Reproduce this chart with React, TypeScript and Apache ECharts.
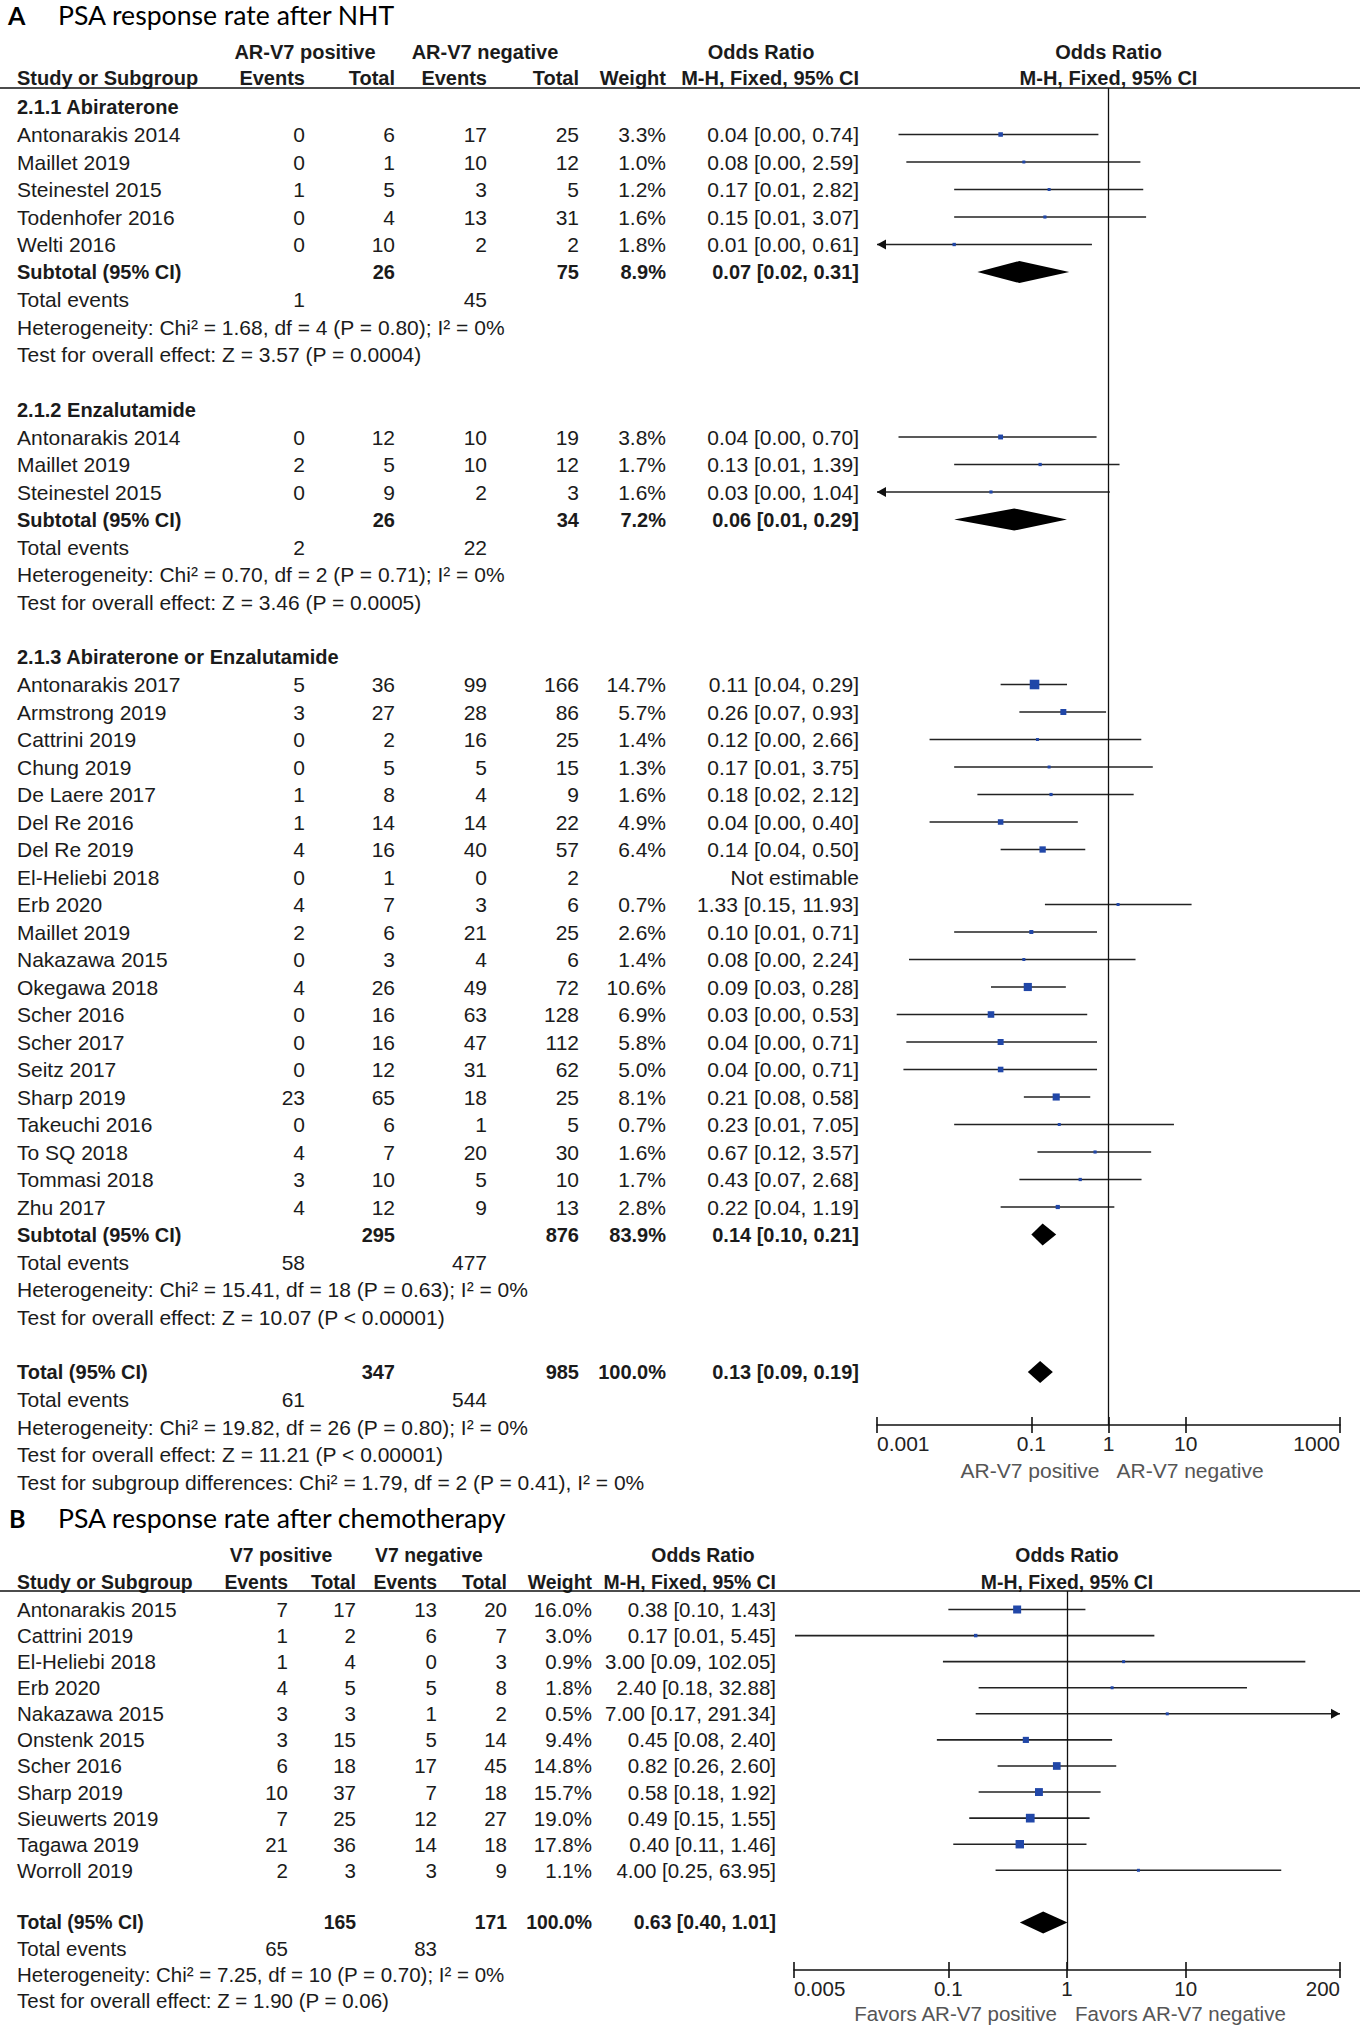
import React, { useEffect, useRef } from "react";
import * as echarts from "echarts";

// ================= Panel A: PSA response rate after NHT =================
const subgroupTitlesA = ["2.1.1 Abiraterone", "2.1.2 Enzalutamide", "2.1.3 Abiraterone or Enzalutamide"];

const namesA1 = ["Antonarakis 2014", "Maillet 2019", "Steinestel 2015", "Todenhofer 2016", "Welti 2016"];
const evPosA1 = [0, 0, 1, 0, 0];
const totPosA1 = [6, 1, 5, 4, 10];
const evNegA1 = [17, 10, 3, 13, 2];
const totNegA1 = [25, 12, 5, 31, 2];
const weightA1 = [3.3, 1.0, 1.2, 1.6, 1.8];
const orA1 = [0.04, 0.08, 0.17, 0.15, 0.01];
const loA1 = [0.0019, 0.0024, 0.01, 0.01, 0.0005];
const hiA1 = [0.74, 2.59, 2.82, 3.07, 0.61];

const namesA2 = ["Antonarakis 2014", "Maillet 2019", "Steinestel 2015"];
const evPosA2 = [0, 2, 0];
const totPosA2 = [12, 5, 9];
const evNegA2 = [10, 10, 2];
const totNegA2 = [19, 12, 3];
const weightA2 = [3.8, 1.7, 1.6];
const orA2 = [0.04, 0.13, 0.03];
const loA2 = [0.0019, 0.01, 0.0006];
const hiA2 = [0.7, 1.39, 1.04];

const namesA3 = ["Antonarakis 2017", "Armstrong 2019", "Cattrini 2019", "Chung 2019", "De Laere 2017", "Del Re 2016", "Del Re 2019", "El-Heliebi 2018", "Erb 2020", "Maillet 2019", "Nakazawa 2015", "Okegawa 2018", "Scher 2016", "Scher 2017", "Seitz 2017", "Sharp 2019", "Takeuchi 2016", "To SQ 2018", "Tommasi 2018", "Zhu 2017"];
const evPosA3 = [5, 3, 0, 0, 1, 1, 4, 0, 4, 2, 0, 4, 0, 0, 0, 23, 0, 4, 3, 4];
const totPosA3 = [36, 27, 2, 5, 8, 14, 16, 1, 7, 6, 3, 26, 16, 16, 12, 65, 6, 7, 10, 12];
const evNegA3 = [99, 28, 16, 5, 4, 14, 40, 0, 3, 21, 4, 49, 63, 47, 31, 18, 1, 20, 5, 9];
const totNegA3 = [166, 86, 25, 15, 9, 22, 57, 2, 6, 25, 6, 72, 128, 112, 62, 25, 5, 30, 10, 13];
const weightA3 = [14.7, 5.7, 1.4, 1.3, 1.6, 4.9, 6.4, null, 0.7, 2.6, 1.4, 10.6, 6.9, 5.8, 5.0, 8.1, 0.7, 1.6, 1.7, 2.8];
const orA3 = [0.11, 0.26, 0.12, 0.17, 0.18, 0.04, 0.14, null, 1.33, 0.1, 0.08, 0.09, 0.03, 0.04, 0.04, 0.21, 0.23, 0.67, 0.43, 0.22];
const loA3 = [0.04, 0.07, 0.0048, 0.01, 0.02, 0.0048, 0.04, null, 0.15, 0.01, 0.0026, 0.03, 0.0018, 0.0024, 0.0022, 0.08, 0.01, 0.12, 0.07, 0.04];
const hiA3 = [0.29, 0.93, 2.66, 3.75, 2.12, 0.4, 0.5, null, 11.93, 0.71, 2.24, 0.28, 0.53, 0.71, 0.71, 0.58, 7.05, 3.57, 2.68, 1.19];

const subTotPosA = [26, 26, 295];
const subTotNegA = [75, 34, 876];
const subWeightA = [8.9, 7.2, 83.9];
const subOrA = [0.07, 0.06, 0.14];
const subLoA = [0.02, 0.01, 0.1];
const subHiA = [0.31, 0.29, 0.21];
const subEvPosA = [1, 2, 58];
const subEvNegA = [45, 22, 477];
const subHetA = [
  "Heterogeneity: Chi² = 1.68, df = 4 (P = 0.80); I² = 0%",
  "Heterogeneity: Chi² = 0.70, df = 2 (P = 0.71); I² = 0%",
  "Heterogeneity: Chi² = 15.41, df = 18 (P = 0.63); I² = 0%",
];
const subTestA = [
  "Test for overall effect: Z = 3.57 (P = 0.0004)",
  "Test for overall effect: Z = 3.46 (P = 0.0005)",
  "Test for overall effect: Z = 10.07 (P < 0.00001)",
];
const totalNA = [347, 985];
const totalWeightA = 100.0;
const totalCIA = [0.13, 0.09, 0.19];
const totalEventsA = [61, 544];
const totalHetA = "Heterogeneity: Chi² = 19.82, df = 26 (P = 0.80); I² = 0%";
const totalTestA = "Test for overall effect: Z = 11.21 (P < 0.00001)";
const subgroupDiffA = "Test for subgroup differences: Chi² = 1.79, df = 2 (P = 0.41), I² = 0%";
const tickValsA = [0.001, 0.1, 1, 10, 1000];
const tickTextA = ["0.001", "0.1", "1", "10", "1000"];
const captionA = ["AR-V7 positive", "AR-V7 negative"];

// ================= Panel B: PSA response rate after chemotherapy =================
const namesB = ["Antonarakis 2015", "Cattrini 2019", "El-Heliebi 2018", "Erb 2020", "Nakazawa 2015", "Onstenk 2015", "Scher 2016", "Sharp 2019", "Sieuwerts 2019", "Tagawa 2019", "Worroll 2019"];
const evPosB = [7, 1, 1, 4, 3, 3, 6, 10, 7, 21, 2];
const totPosB = [17, 2, 4, 5, 3, 15, 18, 37, 25, 36, 3];
const evNegB = [13, 6, 0, 5, 1, 5, 17, 7, 12, 14, 3];
const totNegB = [20, 7, 3, 8, 2, 14, 45, 18, 27, 18, 9];
const weightB = [16.0, 3.0, 0.9, 1.8, 0.5, 9.4, 14.8, 15.7, 19.0, 17.8, 1.1];
const orB = [0.38, 0.17, 3.0, 2.4, 7.0, 0.45, 0.82, 0.58, 0.49, 0.4, 4.0];
const loB = [0.1, 0.0051, 0.09, 0.18, 0.17, 0.08, 0.26, 0.18, 0.15, 0.11, 0.25];
const hiB = [1.43, 5.45, 102.05, 32.88, 291.34, 2.4, 2.6, 1.92, 1.55, 1.46, 63.95];
const totalNB = [165, 171];
const totalWeightB = 100.0;
const totalCIB = [0.63, 0.4, 1.01];
const totalEventsB = [65, 83];
const totalHetB = "Heterogeneity: Chi² = 7.25, df = 10 (P = 0.70); I² = 0%";
const totalTestB = "Test for overall effect: Z = 1.90 (P = 0.06)";
const tickValsB = [0.005, 0.1, 1, 10, 200];
const tickTextB = ["0.005", "0.1", "1", "10", "200"];
const captionB = ["Favors AR-V7 positive", "Favors AR-V7 negative"];

// ================= Layout / style =================
const FONT = '"Liberation Sans", Arial, Helvetica, sans-serif';
const TFONT = 'Lato, "Open Sans", sans-serif';
const TXT = "#1b1b1b";
const SQ = "#2147a8";

const geoA = { left: 877, right: 1340, top: 88, bottom: 1425, row0: 107, rowH: 27.5, min: 0.001, max: 1000, fs: 21, fsB: 20, kSq: 2.5, dh: 11 };
const geoB = { left: 794, right: 1340, top: 1591, bottom: 1970, row0: 1609.5, rowH: 26.08, min: 0.005, max: 200, fs: 20.5, fsB: 19.4, kSq: 2.0, dh: 11 };
const colsA: any = { name: 17, evPos: 305, totPos: 395, evNeg: 487, totNeg: 579, weight: 666, or: 859 };
const colsB: any = { name: 17, evPos: 288, totPos: 356, evNeg: 437, totNeg: 507, weight: 592, or: 776 };

const px1 = (g: any) => g.left + ((g.right - g.left) * (0 - Math.log10(g.min))) / (Math.log10(g.max) - Math.log10(g.min));

function fmtCI(or: number, lo: number, hi: number) {
  return `${or.toFixed(2)} [${lo.toFixed(2)}, ${hi.toFixed(2)}]`;
}

function newAcc() {
  return { rows: [] as any[], pts: [] as any[], ci: [] as any[], dm: [] as any[] };
}
function addStudies(acc: any, names: string[], evP: number[], totP: number[], evN: number[], totN: number[], w: any[], or: any[], lo: any[], hi: any[]) {
  names.forEach((n, k) => {
    const r = acc.rows.length;
    const cells: any[] = [
      { t: n, c: "name" },
      { t: String(evP[k]), c: "evPos" },
      { t: String(totP[k]), c: "totPos" },
      { t: String(evN[k]), c: "evNeg" },
      { t: String(totN[k]), c: "totNeg" },
    ];
    if (w[k] == null || or[k] == null) {
      cells.push({ t: "Not estimable", c: "or" });
    } else {
      cells.push({ t: w[k].toFixed(1) + "%", c: "weight" });
      cells.push({ t: fmtCI(or[k], lo[k], hi[k]), c: "or" });
      acc.pts.push([or[k], r, w[k]]);
      acc.ci.push([lo[k], hi[k], r]);
    }
    acc.rows.push(cells);
  });
}
function addSummary(acc: any, label: string, totP: number, totN: number, w: number, or: number, lo: number, hi: number) {
  const r = acc.rows.length;
  acc.rows.push([
    { t: label, c: "name", b: true },
    { t: String(totP), c: "totPos", b: true },
    { t: String(totN), c: "totNeg", b: true },
    { t: w.toFixed(1) + "%", c: "weight", b: true },
    { t: fmtCI(or, lo, hi), c: "or", b: true },
  ]);
  acc.dm.push([lo, or, hi, r]);
}
function addEvents(acc: any, evP: number, evN: number) {
  acc.rows.push([
    { t: "Total events", c: "name" },
    { t: String(evP), c: "evPos" },
    { t: String(evN), c: "evNeg" },
  ]);
}
function addLine(acc: any, text: string, bold?: boolean) {
  acc.rows.push(text ? [{ t: text, c: "name", b: !!bold }] : []);
}

function buildA() {
  const acc = newAcc();
  const blocks: any[] = [
    [namesA1, evPosA1, totPosA1, evNegA1, totNegA1, weightA1, orA1, loA1, hiA1],
    [namesA2, evPosA2, totPosA2, evNegA2, totNegA2, weightA2, orA2, loA2, hiA2],
    [namesA3, evPosA3, totPosA3, evNegA3, totNegA3, weightA3, orA3, loA3, hiA3],
  ];
  blocks.forEach((b, g) => {
    addLine(acc, subgroupTitlesA[g], true);
    (addStudies as any)(acc, ...b);
    addSummary(acc, "Subtotal (95% CI)", subTotPosA[g], subTotNegA[g], subWeightA[g], subOrA[g], subLoA[g], subHiA[g]);
    addEvents(acc, subEvPosA[g], subEvNegA[g]);
    addLine(acc, subHetA[g]);
    addLine(acc, subTestA[g]);
    addLine(acc, "");
  });
  addSummary(acc, "Total (95% CI)", totalNA[0], totalNA[1], totalWeightA, totalCIA[0], totalCIA[1], totalCIA[2]);
  addEvents(acc, totalEventsA[0], totalEventsA[1]);
  addLine(acc, totalHetA);
  addLine(acc, totalTestA);
  addLine(acc, subgroupDiffA);
  return acc;
}

function buildB() {
  const acc = newAcc();
  addStudies(acc, namesB, evPosB, totPosB, evNegB, totNegB, weightB, orB, loB, hiB);
  addLine(acc, "");
  addSummary(acc, "Total (95% CI)", totalNB[0], totalNB[1], totalWeightB, totalCIB[0], totalCIB[1], totalCIB[2]);
  addEvents(acc, totalEventsB[0], totalEventsB[1]);
  addLine(acc, totalHetB);
  addLine(acc, totalTestB);
  return acc;
}

function xAxesFor(geo: any, gridIndex: number, ticks: number[], labels: string[]) {
  const fmt = (v: number) => {
    let best = 0;
    let bd = Infinity;
    ticks.forEach((t, i) => {
      const d = Math.abs(Math.log10(t) - Math.log10(v));
      if (d < bd) { bd = d; best = i; }
    });
    return labels[best];
  };
  const line = { color: "#111", width: 1.6 };
  return [
    {
      type: "log", logBase: 10, gridIndex, min: geo.min, max: geo.max, position: "bottom",
      axisLine: { show: true, onZero: false, lineStyle: line },
      axisTick: { show: true, inside: false, length: 8, customValues: ticks, lineStyle: line },
      axisLabel: {
        show: true, customValues: ticks, formatter: fmt, margin: 8, color: "#222",
        fontSize: geo.fs, fontFamily: FONT, alignMinLabel: "left", alignMaxLabel: "right",
        showMinLabel: true, showMaxLabel: true, hideOverlap: false,
      },
      splitLine: { show: false }, minorTick: { show: false }, minorSplitLine: { show: false },
    },
    {
      type: "log", logBase: 10, gridIndex, min: geo.min, max: geo.max, position: "bottom", offset: 0,
      axisLine: { show: false, onZero: false },
      axisTick: { show: true, inside: true, length: 8, customValues: ticks, lineStyle: line },
      axisLabel: { show: false },
      splitLine: { show: false }, minorTick: { show: false }, minorSplitLine: { show: false },
    },
  ];
}

function panelSeries(acc: any, geo: any, cols: any, xi: number, yi: number) {
  const ci = {
    type: "custom", xAxisIndex: xi, yAxisIndex: yi, clip: false, silent: true, z: 3,
    encode: { x: [0, 1], y: 2 },
    data: acc.ci,
    renderItem: (_p: any, api: any) => {
      const lo = api.value(0), hi = api.value(1), r = api.value(2);
      const l = Math.max(lo, geo.min), h = Math.min(hi, geo.max);
      const p1 = api.coord([l, r]);
      const p2 = api.coord([h, r]);
      const children: any[] = [
        { type: "line", shape: { x1: p1[0], y1: p1[1], x2: p2[0], y2: p2[1] }, style: { stroke: "#222", lineWidth: 1.6 } },
      ];
      if (lo < geo.min) {
        children.push({ type: "polygon", shape: { points: [[p1[0], p1[1]], [p1[0] + 9, p1[1] - 5], [p1[0] + 9, p1[1] + 5]] }, style: { fill: "#111" } });
      }
      if (hi > geo.max) {
        children.push({ type: "polygon", shape: { points: [[p2[0], p2[1]], [p2[0] - 9, p2[1] - 5], [p2[0] - 9, p2[1] + 5]] }, style: { fill: "#111" } });
      }
      return { type: "group", children };
    },
  };
  const squares = {
    type: "scatter", xAxisIndex: xi, yAxisIndex: yi, silent: true, z: 4,
    data: acc.pts,
    symbol: "rect",
    symbolSize: (v: any) => Math.max(3, geo.kSq * Math.sqrt(v[2])),
    itemStyle: { color: SQ, opacity: 1 },
    markLine: {
      silent: true, symbol: ["none", "none"], label: { show: false },
      lineStyle: { color: "#111", width: 1.3, type: "solid" },
      emphasis: { disabled: true },
      data: [{ xAxis: 1 }],
    },
  };
  const dm = {
    type: "custom", xAxisIndex: xi, yAxisIndex: yi, clip: false, silent: true, z: 5,
    encode: { x: [0, 1, 2], y: 3 },
    data: acc.dm,
    renderItem: (_p: any, api: any) => {
      const r = api.value(3);
      const a = api.coord([api.value(0), r]);
      const m = api.coord([api.value(1), r]);
      const b = api.coord([api.value(2), r]);
      return {
        type: "polygon",
        shape: { points: [[a[0], a[1]], [m[0], m[1] - geo.dh], [b[0], b[1]], [m[0], m[1] + geo.dh]] },
        style: { fill: "#000" },
      };
    },
  };
  const txt = {
    type: "custom", xAxisIndex: xi, yAxisIndex: yi, clip: false, silent: true, z: 6,
    encode: { x: 0, y: 1 },
    data: acc.rows.map((_r: any, i: number) => [1, i]),
    renderItem: (p: any, api: any) => {
      const row = acc.rows[p.dataIndex];
      const y = api.coord([1, api.value(1)])[1];
      return {
        type: "group",
        children: row.map((c: any) => ({
          type: "text",
          x: cols[c.c],
          y,
          style: {
            text: c.t, fill: TXT, fontFamily: FONT,
            fontSize: c.b ? geo.fsB : geo.fs, fontWeight: c.b ? "bold" : "normal",
            align: c.c === "name" ? "left" : "right", verticalAlign: "middle",
          },
        })),
      };
    },
  };
  return [ci, squares, dm, txt];
}

function buildOption() {
  const accA = buildA();
  const accB = buildB();
  const g: any[] = [];
  const T = (text: string, x: number, y: number, o: any) =>
    g.push({
      type: "text", x, y, silent: true,
      style: {
        text, fill: o.fill || TXT, fontFamily: o.ff || FONT, fontSize: o.fs,
        fontWeight: o.b ? "bold" : "normal", align: o.al || "left", verticalAlign: "middle",
      },
    });
  const L = (x1: number, y1: number, x2: number, y2: number) =>
    g.push({ type: "line", silent: true, shape: { x1, y1, x2, y2 }, style: { stroke: "#111", lineWidth: 1.6 } });

  const pA = px1(geoA);
  const pB = px1(geoB);

  // Panel A titles and headers
  T("A", 8, 15, { ff: TFONT, fs: 25, b: true, fill: "#000" });
  T("PSA response rate after NHT", 58, 15, { ff: TFONT, fs: 26.6, fill: "#000" });
  const hA = { fs: geoA.fsB, b: true };
  T("AR-V7 positive", 305, 52, { ...hA, al: "center" });
  T("AR-V7 negative", 485, 52, { ...hA, al: "center" });
  T("Odds Ratio", 761, 52, { ...hA, al: "center" });
  T("Odds Ratio", pA, 52, { ...hA, al: "center" });
  T("Study or Subgroup", colsA.name, 78, hA);
  T("Events", colsA.evPos, 78, { ...hA, al: "right" });
  T("Total", colsA.totPos, 78, { ...hA, al: "right" });
  T("Events", colsA.evNeg, 78, { ...hA, al: "right" });
  T("Total", colsA.totNeg, 78, { ...hA, al: "right" });
  T("Weight", colsA.weight, 78, { ...hA, al: "right" });
  T("M-H, Fixed, 95% CI", colsA.or, 78, { ...hA, al: "right" });
  T("M-H, Fixed, 95% CI", pA, 78, { ...hA, al: "center" });
  L(0, geoA.top, 1360, geoA.top);
  T(captionA[0], pA - 9, 1470, { fs: geoA.fs, fill: "#555", al: "right" });
  T(captionA[1], pA + 8, 1470, { fs: geoA.fs, fill: "#555", al: "left" });

  // Panel B titles and headers
  T("B", 9, 1518, { ff: TFONT, fs: 25, b: true, fill: "#000" });
  T("PSA response rate after chemotherapy", 58, 1518, { ff: TFONT, fs: 26.6, fill: "#000" });
  const hB = { fs: geoB.fsB, b: true };
  T("V7 positive", 281, 1555, { ...hB, al: "center" });
  T("V7 negative", 429, 1555, { ...hB, al: "center" });
  T("Odds Ratio", 703, 1555, { ...hB, al: "center" });
  T("Odds Ratio", pB, 1555, { ...hB, al: "center" });
  T("Study or Subgroup", colsB.name, 1582, hB);
  T("Events", colsB.evPos, 1582, { ...hB, al: "right" });
  T("Total", colsB.totPos, 1582, { ...hB, al: "right" });
  T("Events", colsB.evNeg, 1582, { ...hB, al: "right" });
  T("Total", colsB.totNeg, 1582, { ...hB, al: "right" });
  T("Weight", colsB.weight, 1582, { ...hB, al: "right" });
  T("M-H, Fixed, 95% CI", colsB.or, 1582, { ...hB, al: "right" });
  T("M-H, Fixed, 95% CI", pB, 1582, { ...hB, al: "center" });
  L(0, geoB.top, 1360, geoB.top);
  T(captionB[0], pB - 10, 2013, { fs: geoB.fs, fill: "#555", al: "right" });
  T(captionB[1], pB + 8, 2013, { fs: geoB.fs, fill: "#555", al: "left" });

  const yAx = (geo: any, gridIndex: number) => ({
    type: "value", gridIndex, inverse: true, show: false,
    min: (geo.top - geo.row0) / geo.rowH,
    max: (geo.bottom - geo.row0) / geo.rowH,
    splitLine: { show: false }, axisLine: { show: false }, axisTick: { show: false }, axisLabel: { show: false },
  });

  return {
    animation: false,
    backgroundColor: "#fff",
    grid: [
      { left: geoA.left, top: geoA.top, width: geoA.right - geoA.left, height: geoA.bottom - geoA.top, containLabel: false },
      { left: geoB.left, top: geoB.top, width: geoB.right - geoB.left, height: geoB.bottom - geoB.top, containLabel: false },
    ],
    xAxis: [...xAxesFor(geoA, 0, tickValsA, tickTextA), ...xAxesFor(geoB, 1, tickValsB, tickTextB)],
    yAxis: [yAx(geoA, 0), yAx(geoB, 1)],
    series: [...panelSeries(accA, geoA, colsA, 0, 0), ...panelSeries(accB, geoB, colsB, 2, 1)],
    graphic: g,
  };
}

export default function App() {
  const ref = useRef<HTMLDivElement>(null);
  useEffect(() => {
    if (!ref.current) return;
    const chart = echarts.init(ref.current, null, { renderer: "svg" });
    chart.setOption(buildOption() as any);
    return () => chart.dispose();
  }, []);
  return (
    <div
      ref={ref}
      style={{ position: "absolute", left: 0, top: 0, width: 1360, height: 2026, background: "#fff" }}
    />
  );
}
